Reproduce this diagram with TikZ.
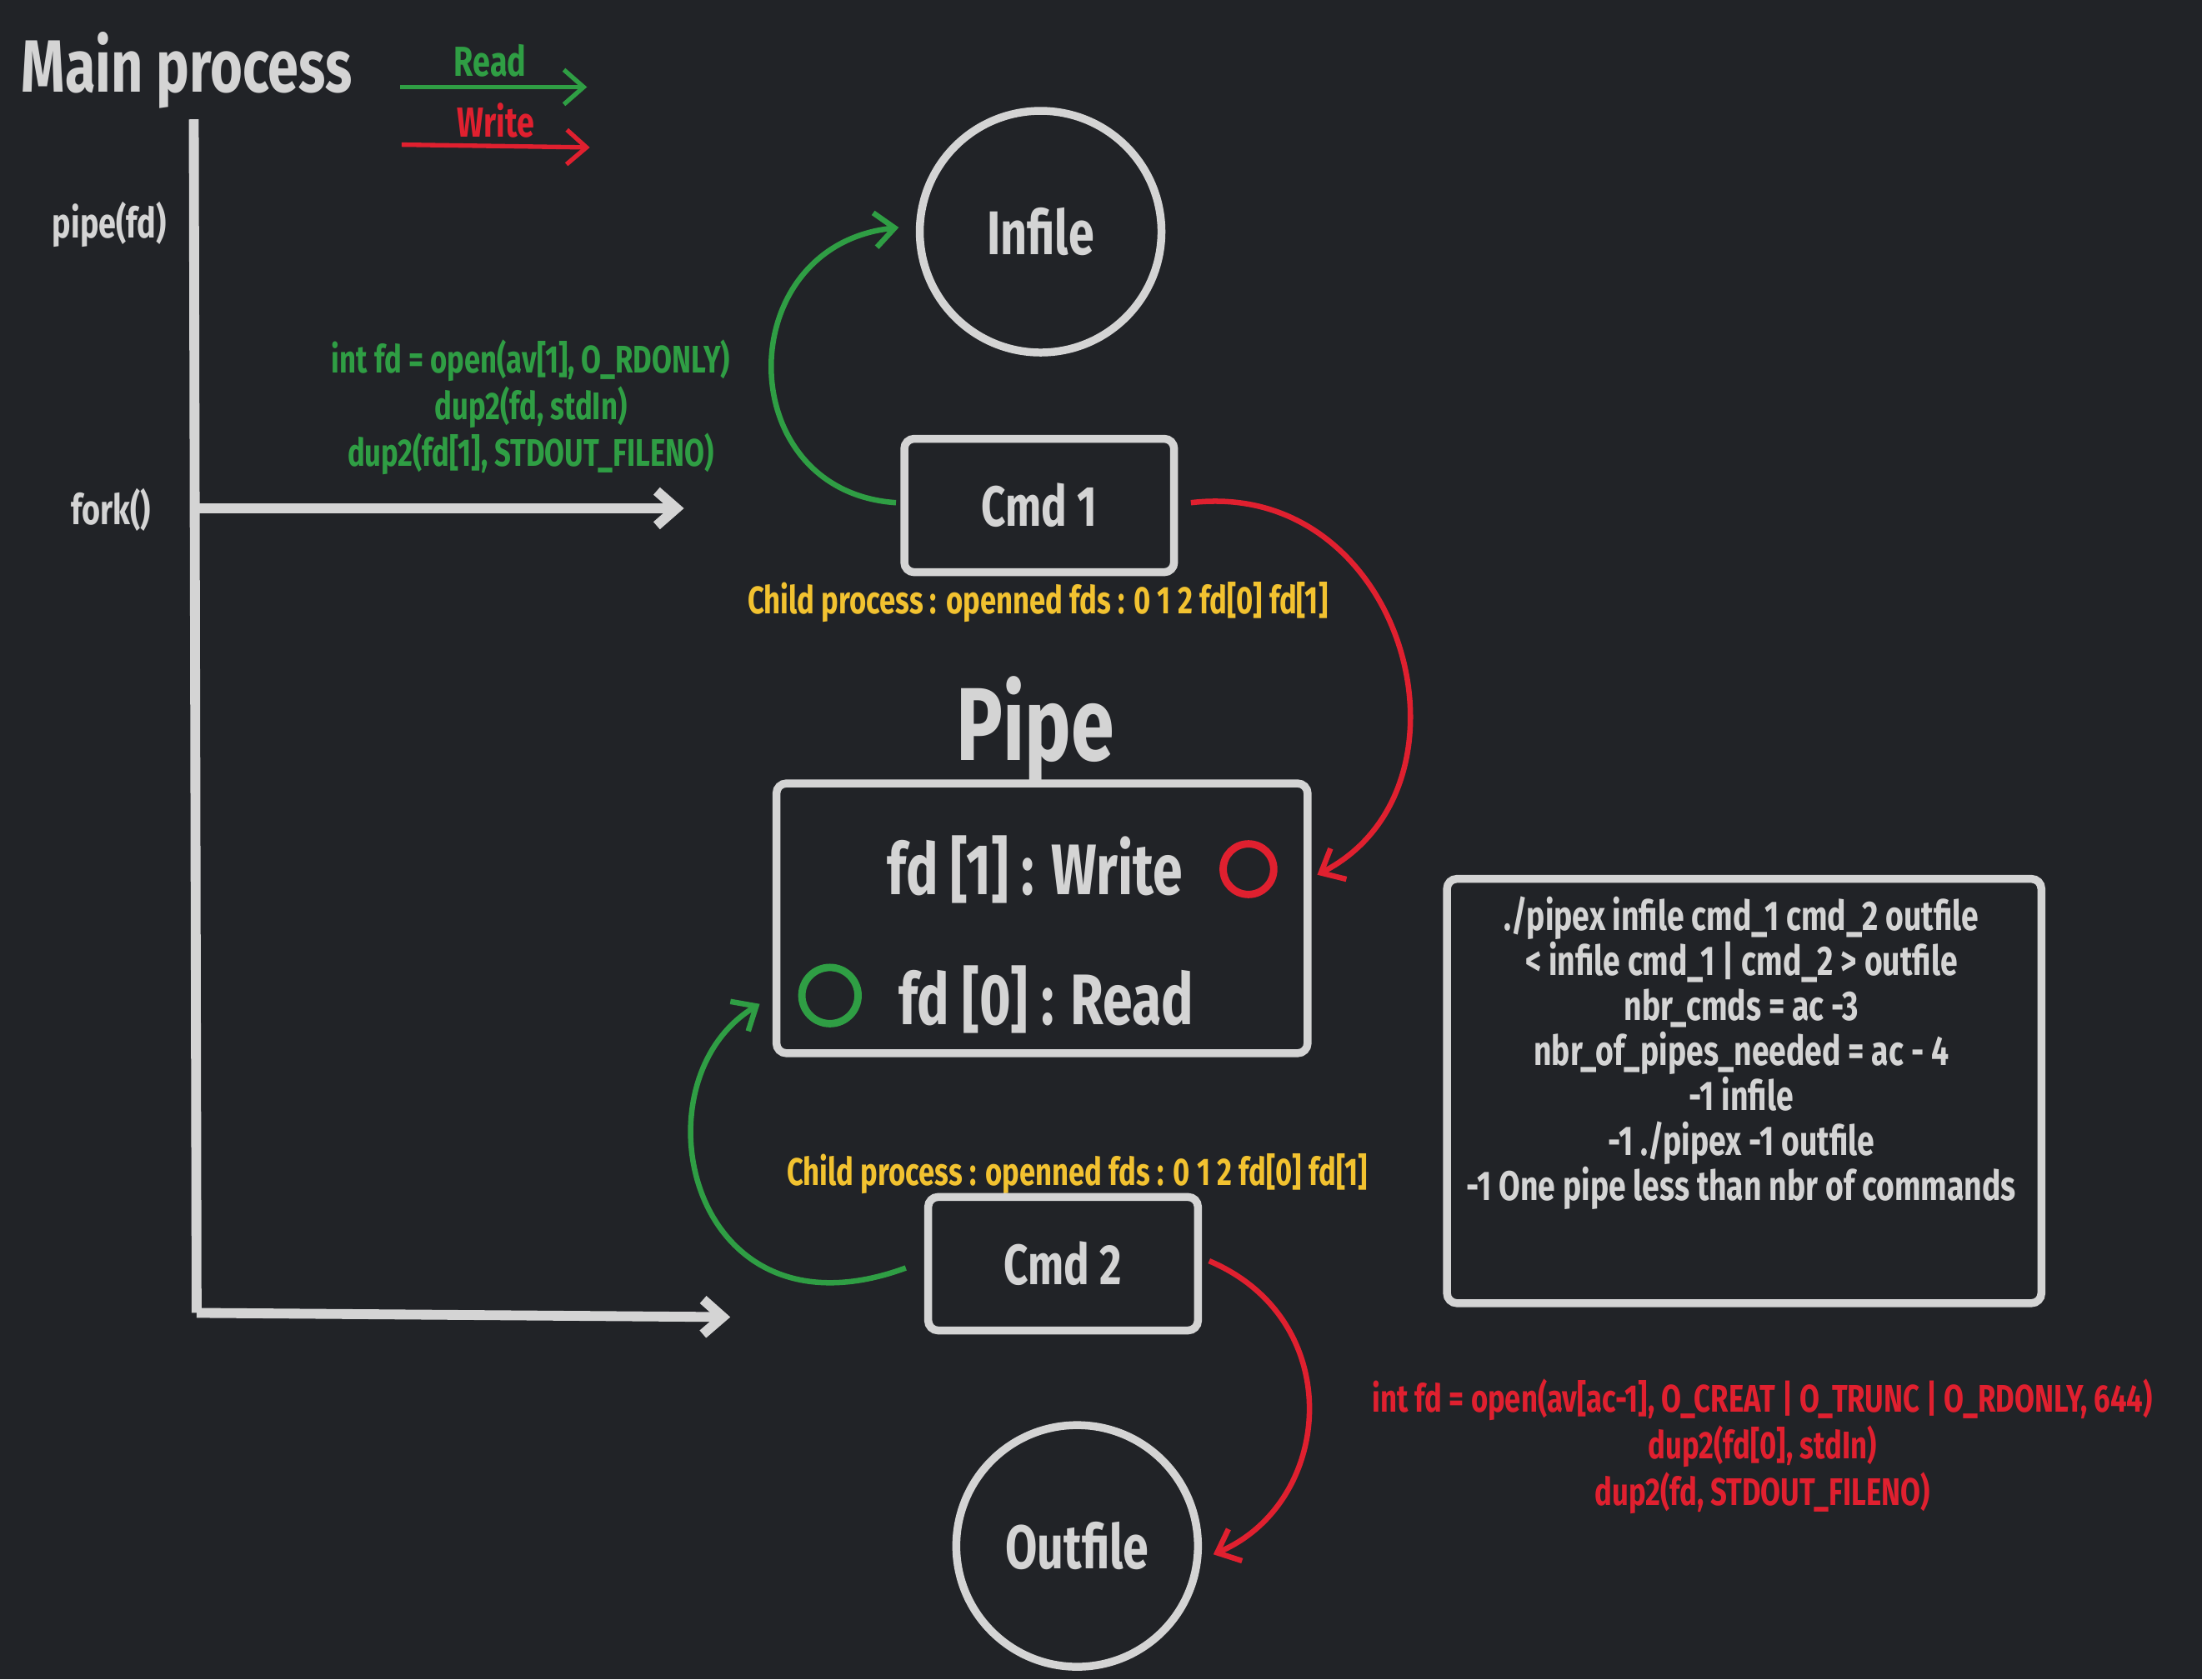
\documentclass[tikz,border=0pt]{standalone}
\usepackage{fontspec}
\setmainfont{Fira Sans}[FakeStretch=0.75]
\usetikzlibrary{arrows.meta}
\definecolor{bg}{HTML}{212327}
\definecolor{fg}{HTML}{D4D4D4}
\definecolor{gr}{HTML}{2F9E44}
\definecolor{rd}{HTML}{E0202F}
\definecolor{yl}{HTML}{F2C230}
\begin{document}
\begin{tikzpicture}[x=0.01cm,y=-0.01cm,
  line width=1.1pt,
  lbl/.style={font=\fontsize{8.5}{9}\selectfont\bfseries, inner sep=1pt, align=center},
  box/.style={draw=fg, line width=1.6pt, rounded corners=2pt},
  circ/.style={draw=fg, line width=1.6pt, circle, minimum size=1.72cm, inner sep=0},
  arr/.style={-{Straight Barb[length=4pt,width=7pt]}}]
\fill[bg] (0,0) rectangle (1568,1196);
\useasboundingbox (0,0) rectangle (1568,1196);
\node[fg, font=\fontsize{15}{16}\selectfont\bfseries] (mp) at (133,50) {Main process};
\node[lbl, gr] (rl) at (349,43) {Read};
\node[lbl, rd] (wl) at (353,86) {Write};
\coordinate (r1) at (285,62); \coordinate (r2) at (418,62);
\coordinate (w1) at (286,103); \coordinate (w2) at (420,105);
\draw[gr, line width=0.9pt, arr] (r1) -- (r2);
\draw[rd, line width=0.9pt, arr] (w1) -- (w2);
\coordinate (top) at (138,85); \coordinate (bot) at (140,935);
\coordinate (f1) at (140,362); \coordinate (f2) at (487,362);
\coordinate (b2) at (520,938);
\draw[fg, line width=2pt] (top) -- (bot);
\draw[fg, line width=2pt, arr] (f1) -- (f2);
\draw[fg, line width=2pt, arr] (bot) -- (b2);
\node[lbl, fg] (pf) at (78,160) {pipe(fd)};
\node[lbl, fg] (fk) at (79,363) {fork()};
\node[circ, fg, font=\fontsize{12.5}{14}\selectfont\bfseries] (inf) at (741,165) {Infile};
\node[box, fg, minimum width=1.92cm, minimum height=0.95cm, font=\fontsize{11.5}{13}\selectfont\bfseries] (c1) at (740,360) {Cmd 1};
\node[lbl, gr, font=\fontsize{7.8}{8}\selectfont\bfseries] (gt) at (378,290) {int fd = open(av[1], O\_RDONLY)\\dup2(fd, stdIn)\\dup2(fd[1], STDOUT\_FILENO)};
\node[lbl, yl, font=\fontsize{7.8}{8}\selectfont\bfseries] (y1) at (739,429) {Child process : openned fds : 0 1 2 fd[0] fd[1]};
\node[fg, font=\fontsize{21}{23}\selectfont\bfseries] (pp) at (737,520) {Pipe};
\node[box, minimum width=3.78cm, minimum height=1.92cm] (pb) at (742,654) {};
\node[fg, font=\fontsize{14.5}{16}\selectfont\bfseries] (fw) at (737,619) {fd [1] : Write};
\node[fg, font=\fontsize{14.5}{16}\selectfont\bfseries] (fr) at (745,712) {fd [0] : Read};
\node[draw=rd, line width=1.5pt, circle, minimum size=0.36cm, inner sep=0] (rc) at (889,619) {};
\node[draw=gr, line width=1.5pt, circle, minimum size=0.4cm, inner sep=0] (gc) at (591,709) {};
\node[box, minimum width=4.23cm, minimum height=3.02cm] (ib) at (1242,777) {};
\node[lbl, fg, font=\fontsize{8.4}{9.1}\selectfont\bfseries] (it) at (1240,750) {./pipex infile cmd\_1 cmd\_2 outfile\\< infile cmd\_1 | cmd\_2 > outfile\\nbr\_cmds = ac -3\\nbr\_of\_pipes\_needed = ac - 4\\-1 infile\\-1 ./pipex -1 outfile\\-1 One pipe less than nbr of commands};
\node[lbl, yl, font=\fontsize{7.8}{8}\selectfont\bfseries] (y2) at (767,836) {Child process : openned fds : 0 1 2 fd[0] fd[1]};
\node[box, fg, minimum width=1.92cm, minimum height=0.95cm, font=\fontsize{11.5}{13}\selectfont\bfseries] (c2) at (757,900) {Cmd 2};
\node[circ, fg, font=\fontsize{12.5}{14}\selectfont\bfseries] (outf) at (767,1101) {Outfile};
\node[lbl, rd, font=\fontsize{7.8}{8}\selectfont\bfseries] (rt) at (1255,1030) {int fd = open(av[ac-1], O\_CREAT | O\_TRUNC | O\_RDONLY, 644)\\dup2(fd[0], stdIn)\\dup2(fd, STDOUT\_FILENO)};
\coordinate (g1s) at (638,358); \coordinate (g1e) at (640,162);
\coordinate (r1s) at (848,358); \coordinate (r1e) at (938,623);
\coordinate (g2s) at (645,903); \coordinate (g2e) at (541,715);
\coordinate (r2s) at (861,898); \coordinate (r2e) at (864,1107);
\draw[gr, arr] (g1s) .. controls (520,350) and (520,175) .. (g1e);
\draw[rd, arr] (r1s) .. controls (1000,340) and (1060,560) .. (r1e);
\draw[gr, arr] (g2s) .. controls (490,960) and (450,770) .. (g2e);
\draw[rd, arr] (r2s) .. controls (960,940) and (950,1070) .. (r2e);
\end{tikzpicture}
\end{document}
